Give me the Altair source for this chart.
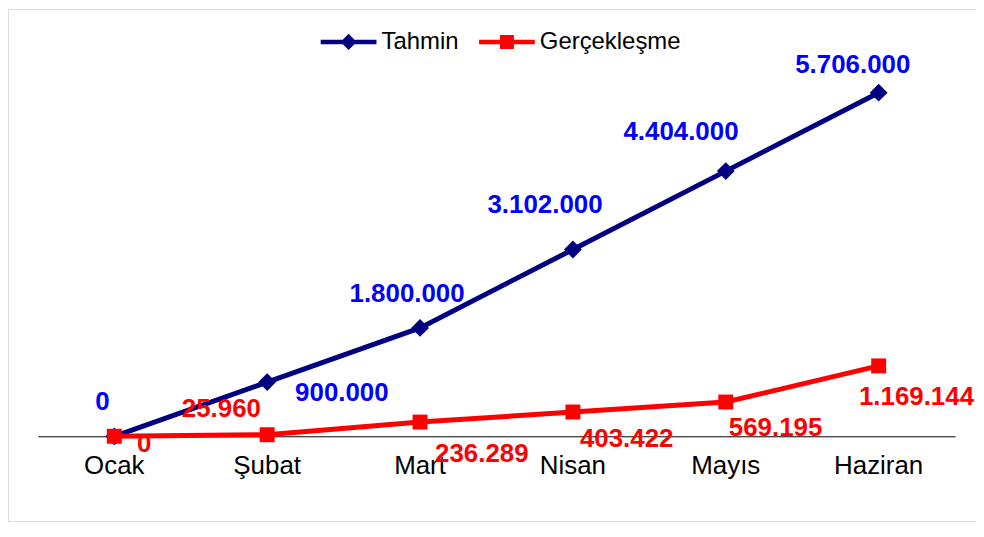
import altair as alt
import pandas as pd

# ---- data ----
months = ["Ocak", "Şubat", "Mart", "Nisan", "Mayıs", "Haziran"]
series_names = ["Tahmin", "Gerçekleşme"]
tahmin = [0, 900000, 1800000, 3102000, 4404000, 5706000]
gerceklesme = [0, 25960, 236289, 403422, 569195, 1169144]
tahmin_labels = ["0", "900.000", "1.800.000", "3.102.000", "4.404.000", "5.706.000"]
gerceklesme_labels = ["0", "25.960", "236.289", "403.422", "569.195", "1.169.144"]

# ---- style ----
W, H = 972, 514
FONT = "Liberation Sans"
NAVY, BLUE, RED = "#000080", "#0000FF", "#FF0000"
tahmin_offsets = [(-12, -34), (75, 11), (-13, -34), (-28, -45), (-45, -39), (-26, -28)]
gerc_offsets = [(30, 8), (-46, -26), (62, 32), (54, 27), (50, 26), (38, 31)]
AXIS_Y = 429  # pixel position of zero line inside the view

rows = []
for m, v, l in zip(months, tahmin, tahmin_labels):
    rows.append({"month": m, "value": v, "label": l, "series": "Tahmin"})
for m, v, l in zip(months, gerceklesme, gerceklesme_labels):
    rows.append({"month": m, "value": v, "label": l, "series": "Gerçekleşme"})
df = pd.DataFrame(rows)

x_enc = alt.X(
    "month:N",
    sort=months,
    scale=alt.Scale(type="band", domain=months, range=[30, 951], paddingInner=0, paddingOuter=0),
    axis=alt.Axis(
        title=None, ticks=False, tickSize=0, grid=False, labelAngle=0,
        domainColor="black", domainWidth=1, labelFont=FONT, labelFontSize=26,
        labelColor="black", labelPadding=16, offset=AXIS_Y - H,
    ),
)
y_enc = alt.Y(
    "value:Q",
    scale=alt.Scale(domain=[0, 5706000], range=[AXIS_Y, 84], nice=False, zero=False),
    axis=None,
)

base = alt.Chart(df)

line_t = base.transform_filter(alt.datum.series == "Tahmin").mark_line(
    color=NAVY, strokeWidth=5,
    point=alt.OverlayMarkDef(shape="diamond", filled=True, size=320, color=NAVY),
).encode(x=x_enc, y=y_enc)

line_g = base.transform_filter(alt.datum.series == "Gerçekleşme").mark_line(
    color=RED, strokeWidth=5,
    point=alt.OverlayMarkDef(shape="square", filled=True, size=225, color=RED),
).encode(x=x_enc, y=y_enc)

layers = [line_t, line_g]
for name, offs, col in [("Tahmin", tahmin_offsets, BLUE), ("Gerçekleşme", gerc_offsets, RED)]:
    for m, (dx, dy) in zip(months, offs):
        layers.append(
            base.transform_filter((alt.datum.series == name) & (alt.datum.month == m))
            .mark_text(font=FONT, fontSize=26, fontWeight="bold", color=col,
                       dx=dx, dy=dy, align="center", baseline="middle")
            .encode(x=x_enc, y=y_enc, text="label:N")
        )

# legend-only layer (no visible points: values are null)
path_t = "M-1,-0.08L1,-0.08L1,0.08L-1,0.08Z M-0.29,0L0,-0.29L0.29,0L0,0.29Z"
path_g = "M-1,-0.08L1,-0.08L1,0.08L-1,0.08Z M-0.25,-0.25L0.25,-0.25L0.25,0.25L-0.25,0.25Z"
leg_df = pd.DataFrame({"series": series_names, "month": months[:2], "value": [None, None]})
legend = alt.Legend(
    title=None, orient="none", legendX=314, legendY=5, direction="horizontal",
    symbolSize=3136, symbolStrokeWidth=0, labelFont=FONT, labelFontSize=24,
    labelColor="black", labelOffset=5, columnPadding=20, padding=0,
)
leg_layer = alt.Chart(leg_df).mark_point(filled=True, opacity=1).encode(
    x=x_enc, y=y_enc,
    color=alt.Color("series:N", scale=alt.Scale(domain=series_names, range=[NAVY, RED]), legend=legend),
    shape=alt.Shape("series:N", scale=alt.Scale(domain=series_names, range=[path_t, path_g]), legend=legend),
)
layers.append(leg_layer)

chart = alt.layer(*layers).properties(width=W, height=H, padding=0).configure_view(
    stroke="#333333", strokeWidth=2
).configure(background="white")

chart.save("out.html", embed_options={"renderer": "svg", "actions": False})
